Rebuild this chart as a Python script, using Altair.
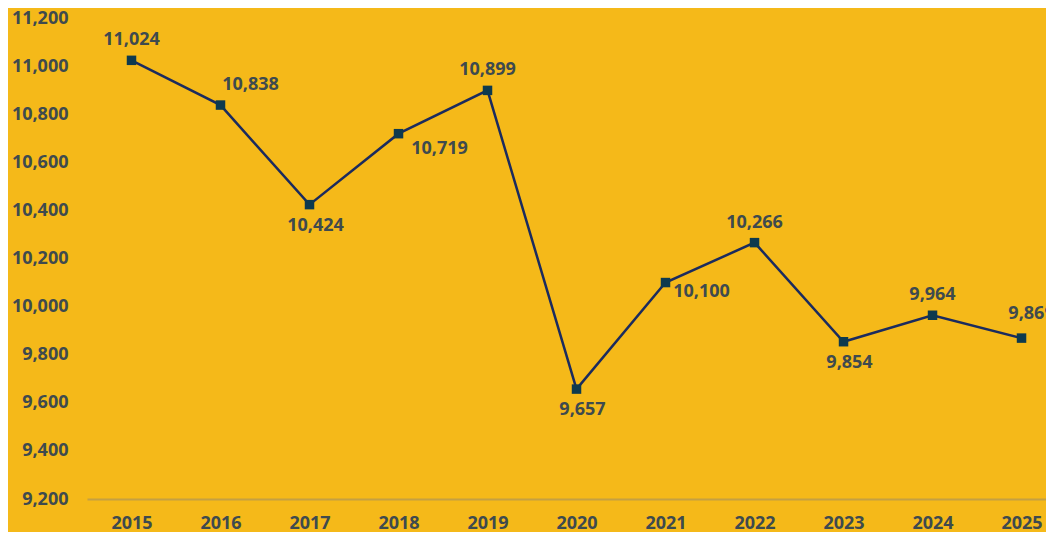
import altair as alt
import pandas as pd

years = [2015, 2016, 2017, 2018, 2019, 2020, 2021, 2022, 2023, 2024, 2025]
values = [11024, 10838, 10424, 10719, 10899, 9657, 10100, 10266, 9854, 9964, 9869]
y_ticks = [9200, 9400, 9600, 9800, 10000, 10200, 10400, 10600, 10800, 11000, 11200]

df = pd.DataFrame({"year": years, "value": values})

BG = "#F5B919"
TEXT = "#3E4A4E"
LINE = "#1B2B5E"
MARK = "#0E3A4E"
FONT = "Open Sans"
FS = 18

x = alt.X("year:Q", scale=alt.Scale(domain=[2014.5, 2025.275], nice=False, zero=False),
          axis=alt.Axis(values=years, format="d", grid=False, ticks=False,
                        labelPadding=15, labelFontSize=FS, labelFontWeight="bold",
                        labelColor=TEXT, labelFont=FONT, domainColor="#C4A043",
                        domainWidth=2, title=None, labelFlush=False))
y = alt.Y("value:Q", scale=alt.Scale(domain=[9200, 11200], nice=False, zero=False),
          axis=alt.Axis(values=y_ticks, format=",.0f", grid=False, ticks=False, domain=False,
                        labelPadding=19, labelFontSize=FS, labelFontWeight="bold",
                        labelColor=TEXT, labelFont=FONT, title=None))

base = alt.Chart(df)

line = base.mark_line(color=LINE, strokeWidth=2.5).encode(x=x, y=y)
points = base.mark_square(color=MARK, size=90, opacity=1).encode(x=x, y=y)

def labels(sel, dx, dy):
    return base.transform_filter(
        alt.FieldOneOfPredicate(field="year", oneOf=sel)
    ).mark_text(font=FONT, fontSize=FS, fontWeight="bold", color=TEXT,
                dx=dx, dy=dy, align="center", baseline="middle").encode(
        x=x, y=y, text=alt.Text("value:Q", format=",.0f"))

above = labels([2015, 2019, 2022, 2024], 0, -20)
above_right = labels([2016], 30, -20)
above_right2 = labels([2025], 10, -24)
below = labels([2017, 2020, 2023], 6, 21)
below_right = labels([2018], 41, 15)
right_below = labels([2021], 36, 9)

chart = alt.layer(line, points, above, above_right, above_right2, below,
                  below_right, right_below).properties(
    width=959, height=481, background=BG,
    autosize=alt.AutoSizeParams(type="none"),
    padding={"left": 79, "top": 10, "right": 0, "bottom": 33},
).configure_view(stroke=None)

chart.save("out.html", embed_options={"renderer": "svg", "actions": False})
